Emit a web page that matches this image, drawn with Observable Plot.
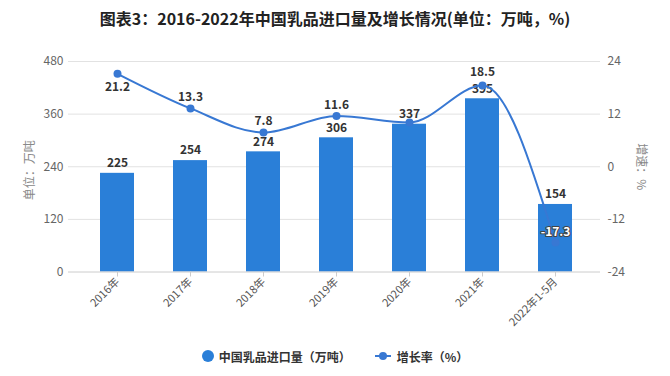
<!DOCTYPE html>
<html>
<head>
<meta charset="utf-8">
<script src="https://cdn.jsdelivr.net/npm/d3@7"></script>
<script src="https://cdn.jsdelivr.net/npm/@observablehq/plot@0.6"></script>
<style>
  body { margin: 0; background: #fff; font-family: "Noto Sans CJK SC", "Noto Sans", sans-serif; }
  #title { height: 36px; line-height: 36px; text-align: center; font-weight: bold; font-size: 16px; color: #222; }
  #legend { height: 40px; display: flex; align-items: center; justify-content: center; font-size: 12px; font-weight: bold; color: #333; }
  .item { display: flex; align-items: center; }
  .dotsw { width: 12px; height: 12px; border-radius: 50%; background: #2a7fd8; margin-right: 5px; }
  .linesw { position: relative; width: 16px; height: 12px; margin-right: 6px; }
  .linesw .l { position: absolute; left: 0; top: 5px; width: 16px; height: 2px; background: #3878d3; }
  .linesw .d { position: absolute; left: 4px; top: 2px; width: 8px; height: 8px; border-radius: 50%; background: #3878d3; }
</style>
</head>
<body>
<div id="title">图表3：2016-2022年中国乳品进口量及增长情况(单位：万吨，%)</div>
<div id="chart"></div>
<div id="legend">
  <div class="item"><div class="dotsw"></div><span>中国乳品进口量（万吨）</span></div>
  <div class="item" style="margin-left:24px"><div class="linesw"><div class="l"></div><div class="d"></div></div><span>增长率（%）</span></div>
</div>
<script>
const years = ["2016年", "2017年", "2018年", "2019年", "2020年", "2021年", "2022年1-5月"];
const imports = [225, 254, 274, 306, 337, 395, 154];
const growth = [21.2, 13.3, 7.8, 11.6, 10.1, 18.5, -17.3];
const leftTicks = [0, 120, 240, 360, 480];
const rightTicks = [-24, -12, 0, 12, 24];

// growth axis -24..24 mapped onto the shared 0..480 y scale
const toY = v => (v + 24) * 10;
const data = years.map((year, i) => ({year, imports: imports[i], growth: growth[i], gy: toY(growth[i])}));

const barColor = "#2a7fd8";
const lineColor = "#3878d3";

const chart = Plot.plot({
  width: 670,
  height: 300,
  marginTop: 25,
  marginBottom: 64.5,
  marginLeft: 68,
  marginRight: 70,
  style: {fontFamily: "'Noto Sans CJK SC', 'Noto Sans', sans-serif", fontSize: "12px", background: "white", overflow: "visible"},
  x: {domain: years, paddingInner: 0.54, paddingOuter: 0.27, insetLeft: 11, insetRight: 8, label: null},
  y: {domain: [0, 480], label: null},
  marks: [
    Plot.gridY([120, 240, 360, 480], {stroke: "#e2e2e2", strokeOpacity: 1}),
    Plot.barY(data, {x: "year", y: "imports", fill: barColor}),
    Plot.ruleY([0], {stroke: "#cccccc"}),
    Plot.axisX({tickSize: 5, tickRotate: -45, stroke: "#cccccc", fill: "#555", fontSize: 11, tickPadding: 3, label: null}),
    Plot.axisY({ticks: leftTicks, tickSize: 0, tickPadding: 5, label: null, fill: "#666", fontSize: 12}),
    Plot.axisY({anchor: "right", ticks: rightTicks.map(toY), tickFormat: d => String(d / 10 - 24), tickSize: 0, tickPadding: 7, label: null, fill: "#666", fontSize: 12}),
    Plot.text(["单位：万吨"], {y: () => 232, frameAnchor: "left", textAnchor: "middle", dx: -38, rotate: -90, fill: "#888", fontSize: 12}),
    Plot.text(["增速：%"], {y: () => 240, frameAnchor: "right", textAnchor: "middle", dx: 40, rotate: 90, fill: "#888", fontSize: 12}),
    Plot.text(data, {x: "year", y: "imports", text: d => String(d.imports), dy: -10, fill: "#333", fontWeight: "bold", fontSize: 12}),
    Plot.line(data, {x: "year", y: "gy", stroke: lineColor, strokeWidth: 2, curve: "monotone-x"}),
    Plot.dot(data, {x: "year", y: "gy", fill: lineColor, r: 4}),
    // growth labels (2020 label is hidden in the original because it overlaps)
    Plot.text(data.filter((d, i) => i === 0), {x: "year", y: "gy", text: d => String(d.growth), dy: 13, fill: "#333", fontWeight: "bold", fontSize: 12}),
    Plot.text(data.filter((d, i) => i > 0 && i < 5 && i !== 4), {x: "year", y: "gy", text: d => String(d.growth), dy: -11, fill: "#333", fontWeight: "bold", fontSize: 12}),
    Plot.text(data.filter((d, i) => i === 5), {x: "year", y: "gy", text: d => String(d.growth), dy: -13, fill: "#333", fontWeight: "bold", fontSize: 12}),
    Plot.text(data.filter((d, i) => i === 6), {x: "year", y: "gy", text: d => String(d.growth), dy: -10, fill: "white", stroke: "#444", strokeWidth: 2, fontWeight: "bold", fontSize: 12})
  ]
});
document.getElementById("chart").appendChild(chart);
</script>
</body>
</html>
